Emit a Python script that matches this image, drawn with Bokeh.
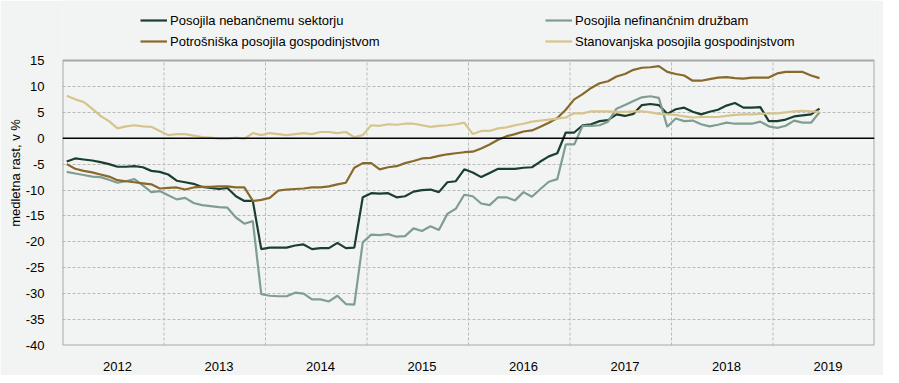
from bokeh.plotting import figure
from bokeh.models import FixedTicker, Span, Legend, LegendItem, Range1d
from bokeh.embed import file_html
from bokeh.resources import INLINE

# ---- data (monthly, Jan 2012 - Jun 2019) ----
years = ["2012", "2013", "2014", "2015", "2016", "2017", "2018", "2019"]

nebancni = [
    -4.5, -3.9, -4.1, -4.3, -4.6, -5.0, -5.5, -5.5, -5.4, -5.6, -6.3, -6.5,
    -7.0, -8.2, -8.5, -8.8, -9.4, -9.6, -9.8, -9.6, -11.2, -12.1, -12.1, -21.4,
    -21.1, -21.1, -21.1, -20.7, -20.5, -21.4, -21.2, -21.2, -20.2, -21.2, -21.1, -11.4,
    -10.6, -10.7, -10.6, -11.4, -11.2, -10.3, -10.0, -9.9, -10.4, -8.5, -8.3, -6.0,
    -6.6, -7.5, -6.7, -5.9, -5.9, -5.9, -5.7, -5.6, -4.5, -3.5, -2.9, 1.1,
    1.1, 2.5, 2.7, 3.3, 3.5, 4.6, 4.3, 4.7, 6.4, 6.6, 6.4, 4.7,
    5.6, 5.9, 5.1, 4.6, 5.1, 5.5, 6.3, 6.8, 5.9, 5.9, 6.0, 3.3,
    3.3, 3.6, 4.2, 4.4, 4.6, 5.7,
]

nefinancne = [
    -6.5, -6.8, -7.1, -7.4, -7.5, -8.0, -8.6, -8.3, -7.9, -9.1, -10.4, -10.2,
    -11.0, -11.8, -11.5, -12.5, -12.9, -13.1, -13.3, -13.4, -15.3, -16.5, -16.0, -30.1,
    -30.4, -30.5, -30.5, -29.8, -30.0, -31.1, -31.1, -31.5, -30.4, -32.0, -32.1, -20.1,
    -18.6, -18.7, -18.5, -19.0, -18.9, -17.4, -17.9, -17.0, -17.7, -14.6, -13.6, -10.9,
    -11.2, -12.6, -12.9, -11.4, -11.4, -12.0, -10.4, -11.3, -9.8, -8.4, -7.9, -1.2,
    -1.2, 2.4, 2.4, 2.5, 3.2, 5.7, 6.4, 7.2, 7.9, 8.1, 7.8, 2.2,
    3.8, 3.3, 3.4, 2.7, 2.3, 2.6, 3.0, 2.8, 2.8, 2.8, 3.2, 2.3,
    2.0, 2.4, 3.4, 3.0, 3.0, 5.0,
]

potrosniska = [
    -5.0, -5.9, -6.3, -6.6, -7.0, -7.4, -8.1, -8.3, -8.5, -8.7, -8.9, -9.7,
    -9.6, -9.5, -9.9, -9.5, -9.4, -9.4, -9.3, -9.3, -9.5, -9.5, -12.1, -11.9,
    -11.5, -10.1, -9.9, -9.8, -9.7, -9.5, -9.5, -9.3, -8.9, -8.6, -5.7, -4.8,
    -4.8, -6.0, -5.6, -5.4, -4.8, -4.4, -3.9, -3.8, -3.4, -3.1, -2.9, -2.7,
    -2.6, -2.0, -1.2, -0.3, 0.4, 0.8, 1.3, 1.5, 2.2, 3.0, 3.9, 5.5,
    7.5, 8.5, 9.7, 10.6, 11.0, 11.9, 12.4, 13.2, 13.6, 13.7, 13.9, 12.8,
    12.4, 12.1, 11.1, 11.1, 11.4, 11.7, 11.8, 11.6, 11.5, 11.7, 11.7, 11.7,
    12.5, 12.8, 12.8, 12.8, 12.1, 11.6,
]

stanovanjska = [
    8.2, 7.5, 7.0, 5.7, 4.3, 3.3, 1.9, 2.3, 2.5, 2.3, 2.2, 1.4,
    0.6, 0.8, 0.8, 0.5, 0.2, 0.1, -0.1, -0.1, 0.1, -0.1, 1.0, 0.6,
    1.0, 0.8, 0.6, 0.8, 1.0, 0.8, 1.2, 1.2, 1.0, 1.2, 0.2, 0.6,
    2.5, 2.4, 2.7, 2.6, 2.8, 2.8, 2.5, 2.2, 2.4, 2.5, 2.7, 3.0,
    0.8, 1.4, 1.4, 1.9, 2.1, 2.5, 2.8, 3.2, 3.4, 3.6, 3.8, 4.0,
    4.8, 4.8, 5.2, 5.2, 5.2, 5.1, 5.1, 5.2, 5.2, 5.0, 4.7, 4.6,
    4.5, 4.2, 4.0, 4.1, 4.1, 4.1, 4.3, 4.5, 4.6, 4.6, 4.7, 4.8,
    4.8, 5.0, 5.2, 5.3, 5.2, 5.1,
]

y_ticks = [-40, -35, -30, -25, -20, -15, -10, -5, 0, 5, 10, 15]
y_tick_labels = ["-40", "-35", "-30", "-25", "-20", "-15", "-10", "-5", "0", "5", "10", "15"]

labels = ["Posojila nebančnemu sektorju", "Posojila nefinančnim družbam",
          "Potrošniška posojila gospodinjstvom", "Stanovanjska posojila gospodinjstvom"]
colors = ["#1b3f2f", "#7f9d90", "#88692b", "#d7c38c"]
series = [nebancni, nefinancne, potrosniska, stanovanjska]

BG = "#f2f4f3"
FONT = "Liberation Sans"
GRID = "#b9b9b9"
BORDER = "#a8a8a8"

n_months = len(nebancni)
x = [i + 0.5 for i in range(n_months)]
y_lo, y_hi = y_ticks[0], y_ticks[-1]
x_hi = 12 * len(years)

# frame extends above the value area to host the legend (value area top sits 60px down)
px_per_unit = 285 / (y_hi - y_lo)
y_top = y_hi + 60 / px_per_unit

p = figure(width=883, height=375, output_backend="svg", toolbar_location=None,
           x_range=Range1d(0, x_hi), y_range=Range1d(y_lo, y_top),
           min_border_left=62, min_border_right=9, min_border_top=0, min_border_bottom=30)
p.background_fill_color = BG
p.border_fill_color = BG
p.outline_line_color = None

# horizontal grid
p.ygrid.ticker = FixedTicker(ticks=y_ticks[1:-1])
p.ygrid.grid_line_color = GRID
p.ygrid.grid_line_dash = "3 2"
p.xgrid.grid_line_color = None

# vertical grid at year boundaries (only within value area)
xb = [12 * k for k in range(1, len(years))]
p.segment(x0=xb, y0=[y_lo] * len(xb), x1=xb, y1=[y_hi] * len(xb),
          line_color=GRID, line_dash="3 2", line_width=1)

# border of the value area
p.quad(left=[0], right=[x_hi], bottom=[y_lo], top=[y_hi],
       fill_color=None, line_color=BORDER, line_width=2)

# x axis: year labels centered in each year
xt = [12 * k + 6.5 for k in range(len(years))]
p.xaxis.ticker = FixedTicker(ticks=xt)
p.xaxis.major_label_overrides = {t: yr for t, yr in zip(xt, years)}
p.xaxis.major_tick_line_color = None
p.xaxis.minor_tick_line_color = None
p.xaxis.axis_line_color = None
p.xaxis.major_label_standoff = 10
p.xaxis.major_label_text_font = FONT
p.xaxis.major_label_text_font_size = "13px"
p.xaxis.major_label_text_color = "#000000"

# y axis
p.yaxis.ticker = FixedTicker(ticks=y_ticks)
p.yaxis.major_label_overrides = {t: s for t, s in zip(y_ticks, y_tick_labels)}
p.yaxis.major_tick_line_color = None
p.yaxis.minor_tick_line_color = None
p.yaxis.axis_line_color = None
p.yaxis.major_label_standoff = 12
p.yaxis.major_label_text_font = FONT
p.yaxis.major_label_text_font_size = "13px"
p.yaxis.major_label_text_color = "#000000"
p.yaxis.axis_label = "medletna rast, v %"
p.yaxis.axis_label_text_font = FONT
p.yaxis.axis_label_text_font_size = "13px"
p.yaxis.axis_label_text_font_style = "normal"
p.yaxis.axis_label_text_color = "#000000"
p.yaxis.axis_label_standoff = 0

p.add_layout(Span(location=0, dimension="width", line_color="#000000", line_width=1.5))

renderers = []
for ys, c in zip(series, colors):
    r = p.line(x, ys, line_color=c, line_width=2.2)
    renderers.append(r)

# legend fills column by column: left column = items 0 and 2, right column = items 1 and 3
order = [0, 2, 1, 3]
items = [LegendItem(label=labels[k], renderers=[renderers[k]]) for k in order]
legend = Legend(items=items, ncols=2, location=(78, 295), orientation="vertical",
                glyph_width=27, glyph_height=18, label_height=18, label_standoff=3,
                label_width=372, spacing=3, padding=0, margin=0,
                border_line_color=None, background_fill_alpha=0,
                label_text_font=FONT, label_text_font_size="13px",
                label_text_color="#000000")
p.add_layout(legend, "center")

open("out.html", "w").write(file_html(p, INLINE))
